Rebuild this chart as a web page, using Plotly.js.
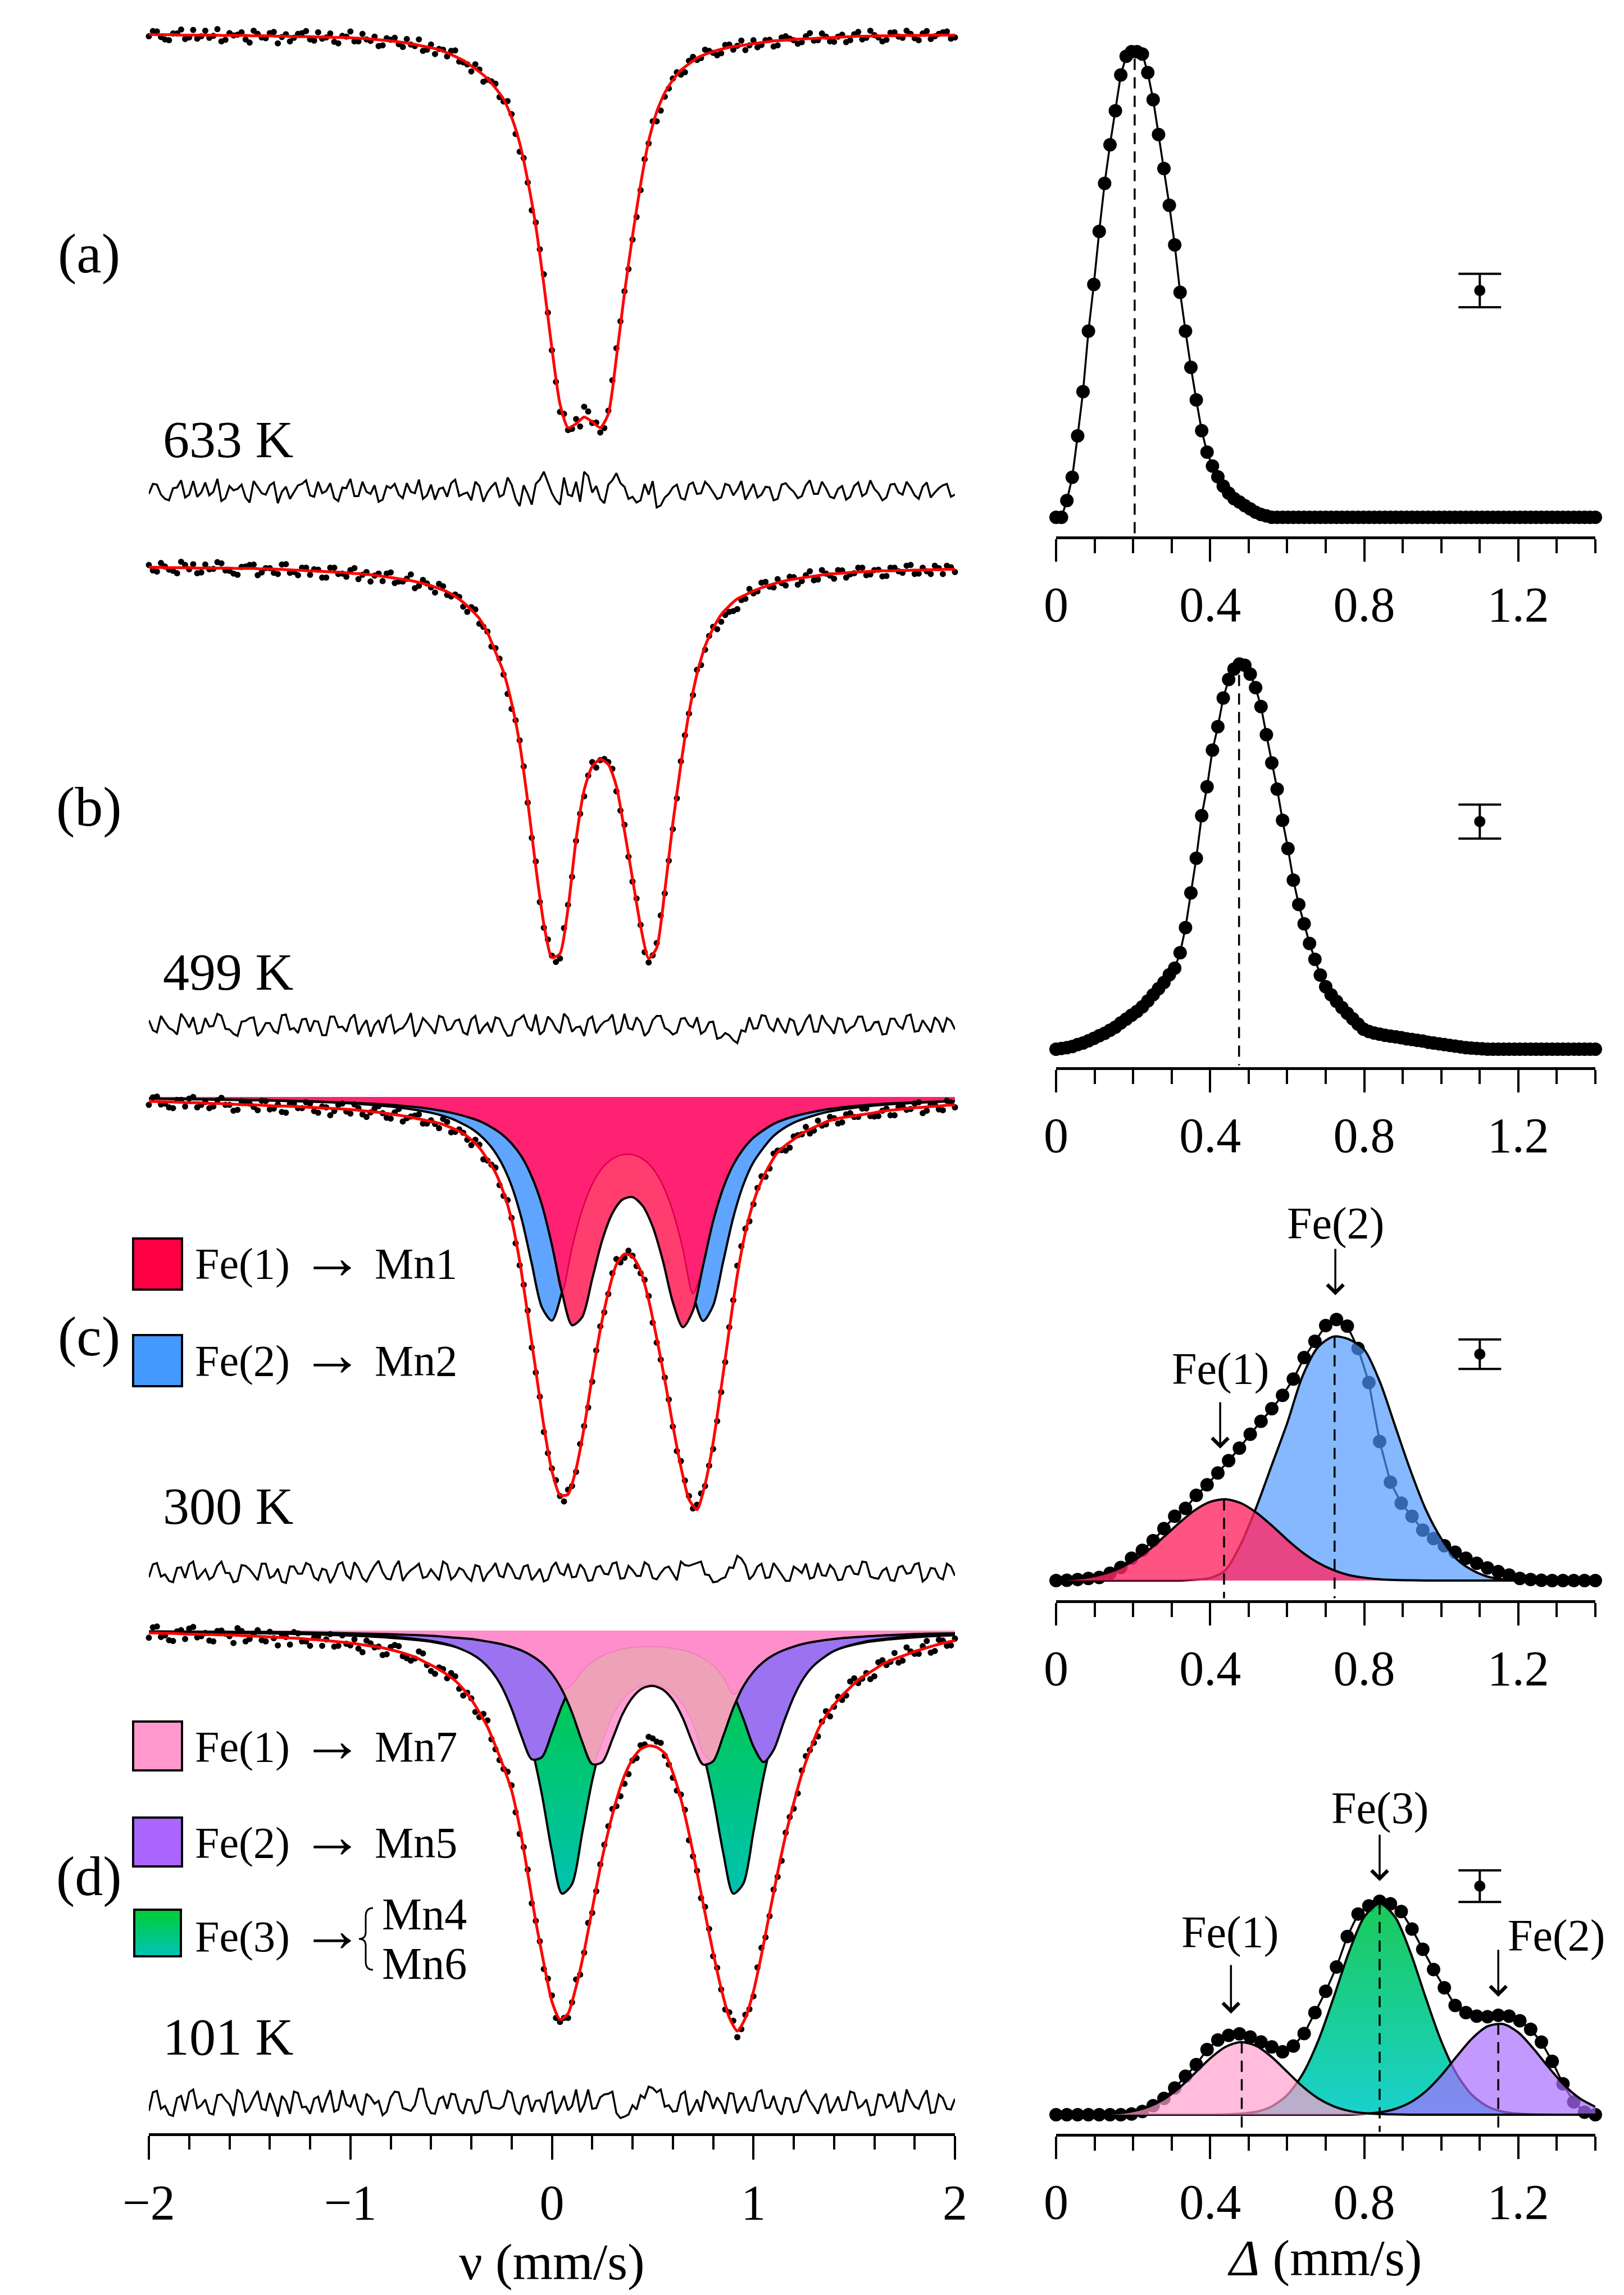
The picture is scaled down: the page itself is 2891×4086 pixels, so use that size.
<!DOCTYPE html>
<html>
<head>
<meta charset="utf-8">
<script src="https://cdn.plot.ly/plotly-3.0.1.min.js"></script>
<style>html,body{margin:0;padding:0;background:#fff}#fig{width:2891px;height:4086px}</style>
</head>
<body>
<div id="fig"></div>
<script>
// ---- Mössbauer spectra: velocity channels (mm/s), absorption in arbitrary units (deepest fit point = 1000)
const VEL = [-2,-1.96,-1.92,-1.88,-1.84,-1.8,-1.76,-1.72,-1.68,-1.64,
  -1.6,-1.56,-1.52,-1.48,-1.44,-1.4,-1.36,-1.32,-1.28,-1.24,
  -1.2,-1.16,-1.12,-1.08,-1.04,-1,-0.96,-0.92,-0.88,-0.84,
  -0.8,-0.76,-0.72,-0.68,-0.64,-0.6,-0.56,-0.52,-0.48,-0.44,
  -0.4,-0.36,-0.32,-0.28,-0.24,-0.2,-0.16,-0.12,-0.08,-0.04,
  0,0.04,0.08,0.12,0.16,0.2,0.24,0.28,0.32,0.36,
  0.4,0.44,0.48,0.52,0.56,0.6,0.64,0.68,0.72,0.76,
  0.8,0.84,0.88,0.92,0.96,1,1.04,1.08,1.12,1.16,
  1.2,1.24,1.28,1.32,1.36,1.4,1.44,1.48,1.52,1.56,
  1.6,1.64,1.68,1.72,1.76,1.8,1.84,1.88,1.92,1.96,2];
// in-between channels
const VEL_MID = [-1.98,-1.94,-1.9,-1.86,-1.82,-1.78,-1.74,-1.7,-1.66,-1.62,
  -1.58,-1.54,-1.5,-1.46,-1.42,-1.38,-1.34,-1.3,-1.26,-1.22,
  -1.18,-1.14,-1.1,-1.06,-1.02,-0.98,-0.94,-0.9,-0.86,-0.82,
  -0.78,-0.74,-0.7,-0.66,-0.62,-0.58,-0.54,-0.5,-0.46,-0.42,
  -0.38,-0.34,-0.3,-0.26,-0.22,-0.18,-0.14,-0.1,-0.06,-0.02,
  0.02,0.06,0.1,0.14,0.18,0.22,0.26,0.3,0.34,0.38,
  0.42,0.46,0.5,0.54,0.58,0.62,0.66,0.7,0.74,0.78,
  0.82,0.86,0.9,0.94,0.98,1.02,1.06,1.1,1.14,1.18,
  1.22,1.26,1.3,1.34,1.38,1.42,1.46,1.5,1.54,1.58,
  1.62,1.66,1.7,1.74,1.78,1.82,1.86,1.9,1.94,1.98];

// 633 K
const FIT_A = [0,1,1,1,2,2,2,2,2,3, 3,3,3,4,4,4,5,5,6,6, 6,7,7,8,8,9,10,11,13,15,
  17,19,22,26,30,34,39,47,56,66, 80,95,112,136,164,210,275,370,485,633,
  795,935,995,985,968,980,995,960,818,655, 510,380,270,196,148,116,91,75,60,51,
  44,38,33,30,27,24,21,18,16,15, 13,12,11,10,9,8,7,6,5,5, 4,4,4,3,3,3,3,2,2,2, 2];
const DATA_A = [5,-7,13,-2,-12,8,11,-9,4,18, -3,1,13,-9,8,-3,23,0,9,-3, 13,-5,8,19,4,-7,18,13,6,28,
  14,25,12,30,42,26,37,56,41,71, 94,89,115,125,170,202,297,375,476,607,
  799,955,1001,973,942,983,1007,952,794,650, 519,394,276,220,158,112,102,67,65,39,
  47,48,26,29,40,15,27,14,28,5, 15,20,-3,15,6,19,1,15,-6,9, 2,18,-4,6,-9,10,-2,12,-1,-7, 8];
const DATA_A_MID = [-8,7,15,-2,12,-11,5,9,-13,14, 3,-5,21,-1,10,-6,7,18,-1,-8, 16,11,-2,23,6,18,-1,17,30,10,
  9,32,26,13,39,50,39,42,69,76, 76,120,119,159,169,252,313,445,544,704,
  879,960,998,992,954,982,996,875,726,594, 462,316,220,193,137,96,96,57,60,42,
  53,27,39,16,28,33,15,31,8,11, 24,5,16,-2,18,6,20,0,13,-9, 8,14,-5,9,-1,15,-8,5,-5,11];
const RES_A = [5,-8,12,-3,-14,6,9,-11,2,15,-6,-2,10,-13,4,-7,18,-5,3,-9,
  7,-12,1,11,-4,-16,8,2,-7,13,-3,6,-10,4,12,-8,-2,9,-15,5,
  14,-6,3,-11,6,-8,22,5,-9,-26,4,20,6,-12,-26,3,12,-8,-24,-5,
  9,14,6,24,10,-4,11,-8,5,-12,3,10,-7,-1,13,-9,6,-4,12,-10,
  2,8,-14,5,-3,11,-6,9,-11,4,-2,14,-8,3,-12,7,-5,10,-3,-9,6];
const RES_A_MID = [-9,6,14,-4,10,-13,3,7,-16,11, 0,-8,17,-5,6,-11,2,12,-7,-14, 9,4,-10,15,-3,8,-12,5,16,-6,
  -9,11,2,-15,7,13,-4,-10,8,3, -12,16,-5,9,-18,12,-7,20,-15,-10, 14,-18,8,16,-20,-6,18,-14,-10,12,
  17,-9,-13,21,5,-8,13,-11,4,-6, 12,-9,7,-13,2,10,-5,14,-8,-3, 11,-7,5,-12,9,-2,13,-6,8,-14, 4,10,-9,6,-4,12,-11,3,-7,9];

// 499 K
const FIT_B = [0,0,1,1,1,1,2,2,2,2, 2,3,3,3,4,4,5,6,7,8, 9,10,11,12,13,15,16,18,20,23,
  26,29,32,36,41,47,54,62,74,89, 108,130,165,215,266,344,447,594,760,905,
  990,980,865,690,565,505,487,500,555,668, 790,910,992,965,822,650,500,370,270,200,
  155,120,98,80,70,60,52,45,39,34, 30,27,24,21,18,16,15,13,12,11, 10,9,9,8,8,7,7,6,6,5, 5];
const DATA_B = [-6,11,-2,9,-14,5,15,-7,4,-10, 9,19,-2,-7,13,2,17,-8,12,1, 19,6,26,1,16,7,30,12,21,35,
  13,36,29,53,32,51,42,70,69,100, 101,143,163,205,272,359,439,597,746,914,
  985,992,856,694,581,494,489,494,568,653, 797,907,1002,953,827,664,492,371,260,209,
  151,138,113,106,80,66,39,49,30,46, 25,35,10,31,16,29,8,18,1,20, 7,23,1,10,-4,17,1,17,2,-4, 12];
const DATA_B_MID = [8,-11,6,15,-6,-8,13,5,-13,8, 16,-1,-6,20,2,14,-7,14,20,1, 5,26,1,17,24,2,19,36,16,16,
  40,36,18,47,41,64,48,74,75,113, 107,151,201,232,321,388,505,686,849,944,
  1001,915,785,625,528,508,486,511,617,734, 840,976,984,883,744,586,426,324,248,174,
  157,121,111,83,55,61,37,51,40,24, 44,20,33,7,21,7,26,15,1,18, 6,22,1,14,-6,16,10,-4,17,0];
const RES_B = [-6,11,-3,8,-15,4,13,-9,2,-12,7,16,-5,-10,9,-2,12,-14,5,-7,
  10,-4,15,-11,3,-8,14,-6,1,12,-13,7,-3,17,-9,4,-12,8,-5,11,
  -7,13,-2,-10,6,15,-8,3,-14,9,-5,12,-9,4,16,-11,2,-6,13,-15,
  7,-3,10,-12,5,14,-8,1,-10,9,-4,18,15,26,10,6,-13,4,-9,12,
  -5,8,-14,10,-2,13,-7,5,-11,9,-3,14,-8,2,-12,10,-6,11,-4,-9,7];
const RES_B_MID = [8,-12,5,14,-7,-10,11,3,-15,6, 13,-4,-9,16,-2,9,-13,7,12,-8, -5,15,-11,4,10,-14,2,17,-6,-9,
  12,5,-16,8,-3,13,-10,6,-7,14, -12,4,11,-8,16,-5,-13,9,14,-11, 6,-15,10,3,-7,12,-4,-14,9,5,
  -10,16,-6,-12,8,11,-9,4,13,-3, 20,12,22,8,-10,5,-12,9,3,-8, 15,-6,10,-13,4,-9,12,2,-11,7, -4,13,-8,6,-14,9,3,-10,11,-5];

// 300 K
const FIT_C = [11,11,12,12,13,14,14,15,16,16, 17,18,19,19,20,21,22,22,23,24, 25,26,27,28,29,30,32,34,36,38,
  41,44,47,51,55,59,63,70,78,88, 103,122,150,182,230,295,395,523,658,792,
  900,958,956,895,795,673,560,470,403,378, 384,418,488,580,680,790,890,968,993,932,
  832,700,560,428,326,253,202,164,133,116, 102,88,78,69,60,54,50,47,44,41, 38,34,32,30,28,26,25,23,22,20, 19];
const DATA_C = [19,-1,16,27,7,4,25,12,23,2, 19,31,11,24,9,30,18,38,16,27, 16,38,25,34,16,40,27,48,28,39,
  52,29,51,45,64,56,75,60,84,86, 116,115,153,170,238,291,405,514,663,806,
  894,960,945,902,792,685,552,474,390,387, 382,424,479,591,675,793,876,960,981,936,
  847,710,554,406,317,258,191,172,129,129, 95,90,88,57,66,51,61,39,48,28, 47,33,44,24,31,16,39,18,30,9, 25];
const DATA_C_MID = [1,18,25,7,23,0,19,27,8,19, 33,10,16,32,10,28,36,16,27,13, 34,23,44,19,35,18,42,37,22,50,
  37,59,47,42,64,65,53,85,78,103, 103,150,163,212,248,352,452,603,721,857,
  922,973,936,835,747,610,518,424,398,370, 407,440,543,632,728,852,923,990,954,887,
  780,638,489,359,299,219,192,136,128,122, 92,72,81,69,48,64,42,48,28,46, 46,28,44,21,29,13,33,18,32,13];
const RES_C = [8,-12,4,15,-6,-10,11,-3,7,-14,2,13,-8,5,-11,9,-4,16,-7,3,
  -9,12,-2,6,-13,10,-5,14,-8,1,11,-15,4,-6,9,-3,12,-10,6,-2,
  13,-7,3,-12,8,-4,10,-9,5,14,-6,2,-11,7,-3,12,-8,4,-13,9,
  -2,6,-9,11,-5,3,-14,-8,-12,4,15,10,-6,-22,-9,5,-11,8,-4,13,
  -7,2,10,-12,6,-3,11,-8,4,-13,9,-1,12,-6,3,-10,14,-5,8,-11,6];
const RES_C_MID = [-10,7,13,-5,9,-14,4,11,-8,2, 15,-9,-3,12,-11,6,14,-7,3,-12, 8,-4,16,-10,5,-13,9,2,-15,10,
  -6,13,-2,-11,7,4,-14,11,-5,8, -9,14,-3,6,-12,9,-7,12,-4,11, -13,5,8,-10,13,-6,3,-11,10,-8,
  6,-13,9,2,-7,12,-9,-10,-14,5, 14,8,-5,-18,11,-7,9,-12,4,13, -3,-11,8,5,-9,12,-6,3,-14,7, 10,-5,13,-8,2,-12,9,-4,11,-7];
const V_COMP_C = [-2,-1.6,-1.3,-1.1,-0.9,-0.75,-0.6,-0.5,-0.4,-0.35, -0.3,-0.25,-0.2,-0.15,-0.1,-0.05,0,0.05,0.1,0.15,
  0.2,0.25,0.3,0.35,0.4,0.45,0.5,0.55,0.6,0.65, 0.7,0.75,0.8,0.85,0.9,0.95,1,1.1,1.2,1.35, 1.5,1.7,2];
const FE1_C = [4,6,9,12,16,21,29,38,51,60, 73,89,112,144,192,259,356,470,549,530,
  438,344,280,247,241,262,312,393,494,554, 514,406,299,219,163,125,98,65,47,31, 22,15,10];
const FE2_C = [4,7,10,13,19,26,38,52,76,95, 121,159,214,294,401,506,538,469,362,272,
  210,171,149,139,139,149,172,212,275,366, 473,539,502,396,290,211,157,94,62,38, 26,17,10];

// 101 K
const FIT_D = [6,6,7,7,8,9,9,10,10,11, 11,12,13,14,15,16,17,18,19,20, 22,23,25,27,29,31,34,37,40,43,
  48,53,59,66,76,86,97,110,125,146, 172,204,240,288,340,399,490,605,726,830,
  925,970,955,888,800,695,590,500,423,362, 320,296,287,291,306,354,420,505,603,705,
  803,893,965,999,966,900,808,705,604,510, 430,358,300,248,213,185,162,142,123,110, 97,84,75,67,60,52,46,40,34,29, 25];
const DATA_D = [18,-10,12,26,-1,-5,17,6,27,0, 14,-6,27,8,24,3,37,16,4,27, 38,15,22,40,12,37,45,25,42,61,
  41,39,69,70,57,101,92,119,114,162, 169,216,224,296,345,386,507,596,724,844,
  910,976,966,870,803,704,583,488,438,382, 324,286,265,277,312,367,409,523,599,689,
  812,895,952,1014,958,912,791,712,614,504, 444,349,298,264,201,190,173,127,131,106, 114,74,78,80,42,58,39,55,23,38, 20];
const DATA_D_MID = [-8,16,24,2,21,-9,14,25,1,8, 31,1,21,-1,27,19,9,35,7,27, 18,38,9,38,33,22,54,32,40,59,
  36,64,75,52,86,108,96,106,145,155, 203,208,271,323,352,453,540,680,775,868,
  966,966,927,858,729,650,534,445,413,358, 318,284,269,280,334,399,447,563,667,744,
  841,945,973,994,944,840,765,646,574,465, 406,313,280,227,214,165,162,119,120,121, 79,86,56,75,52,58,26,51,25,37];
const RES_D = [12,-16,5,19,-9,-14,8,-4,17,-11,3,-18,14,-6,9,-13,20,-2,-15,7,
  16,-8,-3,13,-17,6,11,-12,2,18,-7,-14,10,4,-19,15,-5,9,-11,16,
  -3,12,-16,8,5,-13,17,-9,-2,14,-15,6,11,-18,3,9,-7,-12,15,20,
  4,-10,-22,-14,6,13,-11,18,-4,-16,9,2,-13,15,-8,12,-17,7,10,-6,
  14,-9,-2,16,-12,5,11,-15,8,-4,17,-10,3,13,-18,6,-7,15,-11,9,-5];
const RES_D_MID = [-14,9,17,-6,12,-18,4,15,-10,-3, 19,-12,7,-16,11,2,-9,16,-13,6, -5,14,-17,10,3,-11,18,-7,-2,13,
  -15,8,12,-19,5,16,-8,-12,10,-4, 15,-14,7,9,-16,11,-6,13,-3,-12, 16,-9,5,14,-18,8,-11,-15,22,17,
  10,-6,-20,-18,4,12,-15,9,13,-10, -7,16,-12,4,11,-14,8,-9,17,-5, 12,-16,6,-3,15,-8,10,-13,4,18, -11,7,-15,12,-4,9,-17,14,-6,10];
const V_COMP_D = [-2,-1.6,-1.3,-1.1,-0.9,-0.75,-0.6,-0.5,-0.4,-0.35, -0.3,-0.25,-0.2,-0.15,-0.1,-0.05,0,0.05,0.1,0.15,
  0.2,0.25,0.3,0.35,0.4,0.45,0.5,0.55,0.6,0.65, 0.7,0.75,0.8,0.85,0.9,0.95,1,1.05,1.1,1.15, 1.2,1.25,1.3,1.4,1.55,1.7,1.85,2];
const FE1_D = [2,3,4,6,8,10,13,17,21,25, 29,34,41,50,63,81,108,148,205,277,
  333,328,271,209,167,144,138,147,173,219, 283,334,326,263,193,139,103,78,61,49, 40,33,28,21,15,11,8,7];
const FE2_D = [3,4,6,8,12,17,26,37,58,75, 101,139,195,265,321,316,255,187,135,101,
  78,63,53,46,42,40,40,41,44,49, 57,69,88,116,159,220,289,328,298,229, 165,118,87,51,28,18,12,9];
const FE3_D = [4,6,8,11,15,20,28,38,55,70, 90,122,159,212,293,408,551,656,632,506,
  374,277,213,173,149,137,135,140,156,185, 232,305,416,554,656,631,502,365,261,192, 145,100,78,50,30,21,15,12];

// ---- quadrupole splitting distributions P(Δ), peak normalised to 1
const QS_FINE = [0,0.014,0.028,0.042,0.056,0.07,0.084,0.098,0.112,0.126,0.14,0.154,0.168,0.182,0.196,0.21,0.224,0.238,0.252,0.266,
  0.28,0.294,0.308,0.322,0.336,0.35,0.364,0.378,0.392,0.406,0.42,0.434,0.448,0.462,0.476,0.49,0.504,0.518,0.532,0.546,
  0.56,0.574,0.588,0.602,0.616,0.63,0.644,0.658,0.672,0.686,0.7,0.714,0.728,0.742,0.756,0.77,0.784,0.798,0.812,0.826,
  0.84,0.854,0.868,0.882,0.896,0.91,0.924,0.938,0.952,0.966,0.98,0.994,1.008,1.022,1.036,1.05,1.064,1.078,1.092,1.106,
  1.12,1.134,1.148,1.162,1.176,1.19,1.204,1.218,1.232,1.246,1.26,1.274,1.288,1.302,1.316,1.33,1.344,1.358,1.372,1.386,1.4];
const P_A = [0,0,0.036,0.086,0.175,0.27,0.40,0.50,0.614,0.717,0.80,0.873,0.95,0.99,1.0,1.0,0.995,0.955,0.897,0.822,
  0.749,0.67,0.585,0.483,0.40,0.322,0.252,0.186,0.14,0.11,0.087,0.067,0.052,0.04,0.033,0.025,0.018,0.011,0.006,0.003,
  0,0,0,0,0,0,0,0,0,0, 0,0,0,0,0,0,0,0,0,0, 0,0,0,0,0,0,0,0,0,0, 0,0,0,0,0,0,0,0,0,0,
  0,0,0,0,0,0,0,0,0,0, 0,0,0,0,0,0,0,0,0,0, 0];
const P_B = [0,0.002,0.004,0.007,0.012,0.016,0.022,0.028,0.035,0.041,0.049,0.057,0.068,0.078,0.088,0.098,0.11,0.125,0.141,0.157,
  0.173,0.193,0.21,0.25,0.315,0.405,0.495,0.605,0.68,0.775,0.836,0.91,0.958,0.985,0.998,0.995,0.972,0.937,0.888,0.815,
  0.742,0.674,0.593,0.52,0.438,0.375,0.325,0.274,0.233,0.192,0.162,0.141,0.124,0.108,0.093,0.079,0.065,0.052,0.046,0.042,
  0.039,0.036,0.034,0.032,0.03,0.027,0.025,0.023,0.021,0.018,0.016,0.014,0.012,0.01,0.008,0.006,0.004,0.003,0.002,0.001,
  0,0,0,0,0,0,0,0,0,0, 0,0,0,0,0,0,0,0,0,0, 0];
const QS_COARSE = [0,0.028,0.056,0.084,0.112,0.14,0.168,0.196,0.224,0.252,0.28,0.308,0.336,0.364,0.392,0.42,0.448,0.476,0.504,0.532,
  0.56,0.588,0.616,0.644,0.672,0.7,0.728,0.756,0.784,0.812,0.84,0.868,0.896,0.924,0.952,0.98,1.008,1.036,1.064,1.092,
  1.12,1.148,1.176,1.204,1.232,1.26,1.288,1.316,1.344,1.372,1.4];
const P_C = [0,0.001,0.004,0.008,0.012,0.028,0.05,0.085,0.115,0.152,0.198,0.245,0.275,0.325,0.365,0.41,0.457,0.505,0.558,0.607,
  0.655,0.706,0.768,0.85,0.912,0.972,0.995,0.97,0.885,0.755,0.53,0.375,0.295,0.245,0.192,0.16,0.133,0.108,0.085,0.066,
  0.048,0.034,0.021,0.008,0.004,0.001,0,0,0,0,0];
const P_D = [0,0,0,0,0,0,0,0.003,0.015,0.042,0.076,0.125,0.18,0.235,0.305,0.35,0.372,0.379,0.364,0.341,
  0.318,0.295,0.322,0.38,0.478,0.578,0.692,0.835,0.94,0.978,1.0,0.988,0.952,0.87,0.775,0.68,0.595,0.512,0.478,0.462,
  0.459,0.466,0.462,0.44,0.40,0.34,0.25,0.145,0.06,0.012,0];
const QS_COMP = [0,0.04,0.08,0.12,0.16,0.2,0.24,0.28,0.32,0.36,0.4,0.44,0.48,0.52,0.56,0.6,0.64,0.68,0.72,0.76,
  0.8,0.84,0.88,0.92,0.96,1,1.04,1.08,1.12,1.16,1.2,1.24,1.28,1.32,1.36,1.4];
const P_C_FE1 = [0.002,0.006,0.012,0.024,0.044,0.075,0.116,0.167,0.22,0.268,0.3,0.31,0.295,0.259,0.21,0.156,0.107,0.068,0.04,0.021,
  0.011,0.005,0.002,0.001,0,0,0,0,0,0,0,0,0,0,0,0];
const P_C_FE2 = [0,0,0,0,0,0,0,0,0,0.003,0.01,0.04,0.14,0.28,0.44,0.6,0.78,0.89,0.93,0.92,
  0.88,0.76,0.59,0.42,0.27,0.16,0.082,0.04,0.015,0.005,0.001,0,0,0,0,0];
const P_D_FE1 = [0,0,0.001,0.002,0.007,0.017,0.037,0.073,0.126,0.194,0.264,0.318,0.34,0.322,0.27,0.201,0.132,0.077,0.04,0.018,
  0.007,0.003,0.001,0,0,0,0,0,0,0,0,0,0,0,0,0];
const P_D_FE2 = [0,0,0,0,0,0,0,0,0,0,0,0,0,0,0,0,0,0,0,0,
  0.004,0.011,0.027,0.058,0.11,0.184,0.273,0.357,0.414,0.425,0.385,0.308,0.219,0.137,0.076,0.037];
const P_D_FE3 = [0,0,0,0,0,0,0,0,0,0,0,0.001,0.005,0.014,0.039,0.092,0.19,0.344,0.546,0.76,
  0.927,0.99,0.927,0.76,0.546,0.344,0.19,0.092,0.039,0.014,0.005,0.001,0,0,0,0];

// site markers (dashed lines) and error bars
const MARK_A = [0.204], MARK_A_TOP = [0.985];
const MARK_B = [0.475], MARK_B_TOP = [0.97];
const MARK_C = [0.436, 0.723], MARK_C_TOP = [0.31, 0.93];
const MARK_D = [0.482, 0.84, 1.148], MARK_D_TOP = [0.34, 0.99, 0.427];
const ERR_X = [1.1, 1.1, 1.1, 1.1];
const ERR_Y = [0.487, 0.59, 0.863, 1.071];
const ERR_H = [0.036, 0.044, 0.056, 0.074];

// ---- geometry helpers (page pixels -> paper)
const W = 2891, H = 4086;
const FONT = 'Liberation Serif, Times New Roman, serif';
const px = x => x / W;
const py = y => 1 - y / H;

const SPEC = [
  {base: 61, scale: 0.704, resid: 873},
  {base: 1010, scale: 0.702, resid: 1824},
  {base: 1953, scale: 0.74, resid: 2798},
  {base: 2903, scale: 0.714, resid: 3743},
];
const DIST = [
  {axis: 955, base: 921, peak: 92, top: 30},
  {axis: 1900, base: 1868, peak: 1181, top: 1120},
  {axis: 2849, base: 2814, peak: 2347, top: 2150},
  {axis: 3799, base: 3765, peak: 3385, top: 3170},
];

const traces = [];
const specY = i => (i === 0 ? 'y' : 'y' + (2 * i + 1));
const resY = i => 'y' + (2 * i + 2);
const distX = i => 'x' + (i + 2);
const distY = i => 'y' + (i + 9);

function interleave(a, b) {
  const out = [];
  a.forEach((v, i) => { out.push(v); if (i < b.length) out.push(b[i]); });
  return out;
}
function fillTrace(x, y, ya, fillcolor, lineColor, lineWidth, extra) {
  return Object.assign({
    type: 'scatter', mode: 'lines', x, y, xaxis: 'x', yaxis: ya,
    fill: 'tozeroy', fillcolor,
    line: {color: lineColor, width: lineWidth, shape: 'spline', smoothing: 0.8},
    hoverinfo: 'skip'
  }, extra || {});
}
function lineTrace(x, y, xa, ya, color, width) {
  return {type: 'scatter', mode: 'lines', x, y, xaxis: xa, yaxis: ya,
    line: {color, width, shape: 'spline', smoothing: 0.8}, hoverinfo: 'skip'};
}

// (c) component shading
const OVL_C = FE1_C.map((v, i) => Math.min(v, FE2_C[i]));
traces.push(fillTrace(V_COMP_C, FE2_C, specY(2), '#5fa5ff', 'black', 4));
traces.push(fillTrace(V_COMP_C, FE1_C, specY(2), '#ff3d6e', 'rgba(0,0,0,0)', 0));
traces.push(fillTrace(V_COMP_C, OVL_C, specY(2), '#ff2272', '#d8004a', 2.5));
traces.push(lineTrace(V_COMP_C, FE1_C, 'x', specY(2), 'black', 4));

// (d) component shading
const OVL_D13 = FE1_D.map((v, i) => Math.min(v, FE3_D[i]));
const OVL_D12 = FE1_D.map((v, i) => Math.min(v, FE2_D[i]));
traces.push(fillTrace(V_COMP_D, FE3_D, specY(3), '#00c878', 'black', 4, {
  fillgradient: {type: 'vertical', start: 150, stop: 670, colorscale: [[0, '#00c850'], [1, '#00c2b4']]}
}));
traces.push(fillTrace(V_COMP_D, FE2_D, specY(3), '#9b73f0', 'black', 4));
traces.push(fillTrace(V_COMP_D, FE1_D, specY(3), '#ffa0d4', 'rgba(0,0,0,0)', 0));
traces.push(fillTrace(V_COMP_D, OVL_D13, specY(3), '#eea2b8', '#f08cbc', 2));
traces.push(fillTrace(V_COMP_D, OVL_D12, specY(3), '#ff8fcc', '#f07fb8', 2));
traces.push(lineTrace(V_COMP_D, FE1_D, 'x', specY(3), 'black', 4));

// spectra: data points, fits, residuals
[
  [DATA_A, DATA_A_MID, FIT_A, RES_A, RES_A_MID],
  [DATA_B, DATA_B_MID, FIT_B, RES_B, RES_B_MID],
  [DATA_C, DATA_C_MID, FIT_C, RES_C, RES_C_MID],
  [DATA_D, DATA_D_MID, FIT_D, RES_D, RES_D_MID]
].forEach(([d, dm, f, r, rm], i) => {
  traces.push({type: 'scatter', mode: 'markers', x: VEL.concat(VEL_MID), y: d.concat(dm), xaxis: 'x', yaxis: specY(i),
    marker: {size: 11, color: 'black'}, cliponaxis: false, hoverinfo: 'skip'});
  traces.push({type: 'scatter', mode: 'lines', x: VEL, y: f, xaxis: 'x', yaxis: specY(i),
    line: {color: '#ff0000', width: 5, shape: 'spline', smoothing: 0.6}, hoverinfo: 'skip'});
  traces.push({type: 'scatter', mode: 'lines', x: interleave(VEL, VEL_MID), y: interleave(r, rm), xaxis: 'x', yaxis: resY(i),
    line: {color: 'black', width: 3.5}, hoverinfo: 'skip'});
});

// distributions
function distDots(x, y, i) {
  return {type: 'scatter', mode: 'lines+markers', x, y, xaxis: distX(i), yaxis: distY(i),
    line: {color: 'black', width: 3.5}, marker: {size: 24, color: 'black'}, cliponaxis: false, hoverinfo: 'skip'};
}
function distFill(y, i, fillcolor, extra) {
  return Object.assign({type: 'scatter', mode: 'lines', x: QS_COMP, y, xaxis: distX(i), yaxis: distY(i),
    fill: 'tozeroy', fillcolor, line: {color: 'black', width: 4, shape: 'spline', smoothing: 0.8}, hoverinfo: 'skip'}, extra || {});
}
function distRange(g) {
  const s = g.base - g.peak;
  return [-(g.axis - g.base) / s, (g.base - g.top) / s];
}
function marks(xs, tops, i) {
  const lo = distRange(DIST[i])[0];
  xs.forEach((c, k) => traces.push({type: 'scatter', mode: 'lines', x: [c, c], y: [tops[k], lo * 0.9],
    xaxis: distX(i), yaxis: distY(i), line: {color: 'black', width: 3.5, dash: '20px,13px'}, hoverinfo: 'skip'}));
}

marks(MARK_A, MARK_A_TOP, 0);
traces.push(distDots(QS_FINE, P_A, 0));
marks(MARK_B, MARK_B_TOP, 1);
traces.push(distDots(QS_FINE, P_B, 1));

traces.push(distDots(QS_COARSE, P_C, 2));
traces.push(distFill(P_C_FE2, 2, 'rgba(75,150,255,0.68)'));
traces.push(distFill(P_C_FE1, 2, 'rgba(255,40,100,0.8)'));
marks(MARK_C, MARK_C_TOP, 2);

traces.push(distDots(QS_COARSE, P_D, 3));
traces.push(distFill(P_D_FE3, 3, 'rgba(0,200,140,0.9)', {
  fillgradient: {type: 'vertical', start: 0, stop: 1, colorscale: [[0, 'rgba(0,204,200,0.9)'], [1, 'rgba(0,196,70,0.9)']]}
}));
traces.push(distFill(P_D_FE2, 3, 'rgba(170,110,255,0.7)'));
traces.push(distFill(P_D_FE1, 3, 'rgba(255,160,205,0.7)'));
marks(MARK_D, MARK_D_TOP, 3);

for (let i = 0; i < 4; i++) {
  traces.push({type: 'scatter', mode: 'markers', x: [ERR_X[i]], y: [ERR_Y[i]], xaxis: distX(i), yaxis: distY(i),
    marker: {size: 20, color: 'black'},
    error_y: {type: 'data', array: [ERR_H[i]], width: 38, thickness: 4, color: 'black'}, hoverinfo: 'skip'});
}

// ---- layout
const axisStyle = {
  showline: true, linecolor: 'black', linewidth: 5, ticks: 'outside', tickwidth: 4, tickcolor: 'black',
  showgrid: false, zeroline: false, tickfont: {size: 88, family: FONT, color: 'black'}, fixedrange: true
};
const layout = {
  width: W, height: H, margin: {l: 0, r: 0, t: 0, b: 0}, showlegend: false,
  paper_bgcolor: 'white', plot_bgcolor: 'rgba(0,0,0,0)', font: {family: FONT, color: 'black'},
  xaxis: Object.assign({}, axisStyle, {
    domain: [px(265), px(1700)], range: [-2, 2], anchor: 'free', position: py(3800),
    tick0: -2, dtick: 1, ticklen: 42,
    minor: {tick0: -2, dtick: 0.2, ticklen: 24, tickwidth: 4, tickcolor: 'black', ticks: 'outside'},
    title: {text: 'ν (mm/s)', font: {size: 92, family: FONT}, standoff: 24}
  }),
  annotations: [], shapes: [], images: []
};
SPEC.forEach((g, i) => {
  const k = i === 0 ? 'yaxis' : 'yaxis' + (2 * i + 1);
  layout[k] = {domain: [py(g.base + 1100 * g.scale), py(g.base - 80 * g.scale)], range: [1100, -80],
    visible: false, anchor: 'x', fixedrange: true};
  layout['yaxis' + (2 * i + 2)] = {domain: [py(g.resid + 70), py(g.resid - 70)], range: [55, -55],
    visible: false, anchor: 'x', fixedrange: true};
});
DIST.forEach((g, i) => {
  const r = distRange(g);
  layout['yaxis' + (i + 9)] = {domain: [py(g.axis), py(g.top)], range: r, visible: false,
    anchor: 'x' + (i + 2), fixedrange: true};
  layout['xaxis' + (i + 2)] = Object.assign({}, axisStyle, {
    domain: [px(1880), px(2840)], range: [0, 1.4], anchor: 'y' + (i + 9),
    tick0: 0, dtick: 0.4, ticklen: 40,
    minor: {tick0: 0, dtick: 0.1, ticklen: 25, tickwidth: 4, tickcolor: 'black', ticks: 'outside'}
  });
});
layout.xaxis5.title = {text: '<i>Δ</i> (mm/s)', font: {size: 92, family: FONT}, standoff: 12};

const A = layout.annotations;
function note(text, x, y, size, extra) {
  A.push(Object.assign({text, x: px(x), y: py(y), xref: 'paper', yref: 'paper', showarrow: false,
    font: {size, family: FONT, color: 'black'}, xanchor: 'center', yanchor: 'middle'}, extra || {}));
}
function dnote(text, xa, x, y, size) {
  A.push({text, x, y: py(y), xref: xa, yref: 'paper', showarrow: false,
    font: {size, family: FONT, color: 'black'}, xanchor: 'center', yanchor: 'middle'});
}
function arrow(xa, x, yStart, yTip) {
  A.push({text: '', x, y: py(yTip), xref: xa, yref: 'paper', showarrow: true, ax: 0, ay: yStart - yTip,
    axref: 'pixel', ayref: 'pixel', arrowhead: 4, arrowsize: 1.6, arrowwidth: 3.5, arrowcolor: 'black'});
}
[['(a)', 451], ['(b)', 1436], ['(c)', 2379], ['(d)', 3340]].forEach(([t, y]) => note(t, 158, y, 100));
[['633 K', 782], ['499 K', 1730], ['300 K', 2681], ['101 K', 3626]].forEach(([t, y]) => note(t, 288, y, 94, {xanchor: 'left'}));

// legends
const ARR = "<span style='font-size:112px'>→</span>";
note('Fe(1) ' + ARR + ' Mn1', 345, 2238, 78, {xanchor: 'left'});
note('Fe(2) ' + ARR + ' Mn2', 345, 2411, 78, {xanchor: 'left'});
note('Fe(1) ' + ARR + ' Mn7', 345, 3098, 78, {xanchor: 'left'});
note('Fe(2) ' + ARR + ' Mn5', 345, 3269, 78, {xanchor: 'left'});
note('Fe(3) ' + ARR, 345, 3436, 78, {xanchor: 'left'});
note('Mn4', 678, 3408, 80, {xanchor: 'left'});
note('Mn6', 678, 3496, 80, {xanchor: 'left'});
function box(y0, y1, color) {
  layout.shapes.push({type: 'rect', xref: 'paper', yref: 'paper', x0: px(237), x1: px(324), y0: py(y1), y1: py(y0),
    fillcolor: color, line: {color: 'black', width: 4}});
}
box(2205, 2296, '#ff0044');
box(2377, 2468, '#4499ff');
box(3065, 3152, '#ff99cc');
box(3236, 3323, '#aa66ff');
const gsvg = "<svg xmlns='http://www.w3.org/2000/svg' width='87' height='87' viewBox='0 0 87 87'>" +
  "<defs><linearGradient id='g' x1='0' y1='0' x2='0' y2='1'><stop offset='0' stop-color='#00cc33'/>" +
  "<stop offset='1' stop-color='#00c4b8'/></linearGradient></defs>" +
  "<rect x='2' y='2' width='83' height='83' fill='url(#g)' stroke='black' stroke-width='4'/></svg>";
layout.images.push({source: 'data:image/svg+xml;charset=utf-8,' + encodeURIComponent(gsvg),
  xref: 'paper', yref: 'paper', x: px(237), y: py(3398), sizex: px(324) - px(237), sizey: (3485 - 3398) / H,
  xanchor: 'left', yanchor: 'top', sizing: 'stretch', layer: 'above'});
const P = (x, y) => px(x) + ',' + py(y);
layout.shapes.push({type: 'path', xref: 'paper', yref: 'paper', line: {color: 'black', width: 3},
  path: 'M' + P(664, 3397) + ' Q' + P(651, 3397) + ' ' + P(651, 3412) + ' L' + P(651, 3440) +
    ' Q' + P(651, 3452) + ' ' + P(639, 3452) + ' Q' + P(651, 3452) + ' ' + P(651, 3464) +
    ' L' + P(651, 3492) + ' Q' + P(651, 3507) + ' ' + P(664, 3507)});

// site labels with arrows on the distributions
dnote('Fe(2)', 'x4', 0.725, 2178, 80); arrow('x4', 0.725, 2222, 2306);
dnote('Fe(1)', 'x4', 0.426, 2437, 80); arrow('x4', 0.426, 2495, 2579);
dnote('Fe(3)', 'x5', 0.84, 3219, 80); arrow('x5', 0.84, 3265, 3349);
dnote('Fe(1)', 'x5', 0.451, 3440, 80); arrow('x5', 0.454, 3497, 3585);
dnote('Fe(2)', 'x5', 1.298, 3446, 80); arrow('x5', 1.148, 3470, 3555);

Plotly.newPlot('fig', traces, layout, {staticPlot: true, displayModeBar: false});
</script>
</body>
</html>
